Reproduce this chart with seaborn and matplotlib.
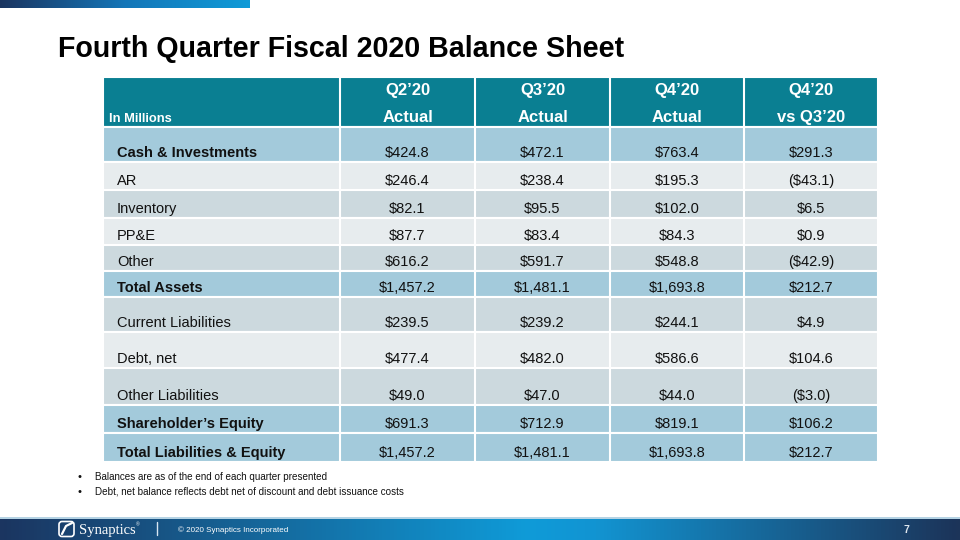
"""
Fourth Quarter Fiscal 2020 Balance Sheet - table slide
"""
import numpy as np
import matplotlib.pyplot as plt
import seaborn as sns
from matplotlib.colors import LinearSegmentedColormap
from matplotlib.patches import FancyBboxPatch

# ---- data ----
row_labels = ['Cash & Investments', 'AR', 'Inventory', 'PP&E', 'Other',
              'Total Assets', 'Current Liabilities', 'Debt, net',
              'Other Liabilities', 'Shareholder\u2019s Equity',
              'Total Liabilities & Equity']
bold_rows = ['Cash & Investments', 'Total Assets', 'Shareholder\u2019s Equity',
             'Total Liabilities & Equity']
row_fill = ['blue', 'light', 'gray', 'light', 'gray', 'blue',
            'gray', 'light', 'gray', 'blue', 'blue']
col_top = ['Q2\u201920', 'Q3\u201920', 'Q4\u201920', 'Q4\u201920']
col_bottom = ['Actual', 'Actual', 'Actual', 'vs Q3\u201920']
q2_actual = [424.8, 246.4, 82.1, 87.7, 616.2, 1457.2, 239.5, 477.4, 49.0, 691.3, 1457.2]
q3_actual = [472.1, 238.4, 95.5, 83.4, 591.7, 1481.1, 239.2, 482.0, 47.0, 712.9, 1481.1]
q4_actual = [763.4, 195.3, 102.0, 84.3, 548.8, 1693.8, 244.1, 586.6, 44.0, 819.1, 1693.8]
q4_vs_q3 = [291.3, -43.1, 6.5, 0.9, -42.9, 212.7, 4.9, 104.6, -3.0, 106.2, 212.7]
notes = ['Balances are as of the end of each quarter presented',
         'Debt, net balance reflects debt net of discount and debt issuance costs']

# ---- layout ----
col_edges = [103, 340, 475, 610, 744, 878]
head_top, head_bot = 77, 127
row_edges = [127, 162, 190, 218, 245, 271, 297, 332, 368, 405, 433, 462]
fills = {'blue': '#A3CADB', 'light': '#E7ECEE', 'gray': '#CCD9DE'}
HEAD = '#0A7F92'
TXT = '#111111'


def money(v):
    s = f'${abs(v):,.1f}'
    return f'({s})' if v < 0 else s


sns.set_theme(style='white')
plt.rcParams['font.family'] = ['Liberation Sans', 'DejaVu Sans']

fig = plt.figure(figsize=(9.6, 5.4), dpi=100)
ax = fig.add_axes([0, 0, 1, 1])
ax.set_xlim(0, 960)
ax.set_ylim(540, 0)
ax.axis('off')

# top banner and footer gradients
dark, bright = '#1B3560', '#0F9BD8'
cmap_top = LinearSegmentedColormap.from_list('top', [dark, '#1476B8', bright])
ax.imshow(np.linspace(0, 1, 256)[None, :], cmap=cmap_top, aspect='auto',
          extent=(0, 250, 8, 0), zorder=1)
cmap_foot = LinearSegmentedColormap.from_list(
    'foot', [(0, dark), (0.55, bright), (0.62, '#1294D2'), (1, '#1C3459')])
ax.imshow(np.linspace(0, 1, 256)[None, :], cmap=cmap_foot, aspect='auto',
          extent=(0, 960, 540, 519), zorder=1)
ax.fill_between([0, 960], 517, 519, color='#B5D3E4', zorder=1, lw=0)

# title
ax.text(58, 57, 'Fourth Quarter Fiscal 2020 Balance Sheet', fontsize=20.6,
        fontweight='bold', color='#000000', va='baseline')

# header band
ax.barh((head_top + head_bot) / 2, col_edges[-1] - col_edges[0],
        height=head_bot - head_top, left=col_edges[0], color=HEAD,
        edgecolor='white', linewidth=1.5, zorder=2)
ax.text(109, 122, 'In Millions', fontsize=9.3, fontweight='bold',
        color='white', va='baseline', zorder=5)
for i in range(4):
    xc = (col_edges[i + 1] + col_edges[i + 2]) / 2
    ax.text(xc, 95, col_top[i], fontsize=12, fontweight='bold', color='white',
            ha='center', va='baseline', zorder=5)
    ax.text(xc, 122, col_bottom[i], fontsize=12, fontweight='bold',
            color='white', ha='center', va='baseline', zorder=5)

# body rows
for r, label in enumerate(row_labels):
    top, bot = row_edges[r], row_edges[r + 1]
    ax.barh((top + bot) / 2, col_edges[-1] - col_edges[0], height=bot - top,
            left=col_edges[0], color=fills[row_fill[r]], edgecolor='white',
            linewidth=1.5, zorder=2)
    base = bot - 5
    ax.text(117, base, label, fontsize=10.5, color=TXT, va='baseline',
            fontweight='bold' if label in bold_rows else 'normal', zorder=5)
    for c, vals in enumerate([q2_actual, q3_actual, q4_actual, q4_vs_q3]):
        xc = (col_edges[c + 1] + col_edges[c + 2]) / 2
        ax.text(xc, base, money(vals[r]), fontsize=10.5, color=TXT,
                ha='center', va='baseline', zorder=5)

# white column separators
for x in col_edges[1:-1]:
    ax.plot([x, x], [head_top, row_edges[-1]], color='white', lw=1.5, zorder=3)

# notes
for i, note in enumerate(notes):
    y = 480 + i * 15
    ax.text(77, y, '\u2022', fontsize=8, color=TXT, va='baseline')
    ax.text(95, y, note, fontsize=7.1, color=TXT, va='baseline')

# footer content
ax.add_patch(FancyBboxPatch((59, 521.5), 15, 15, boxstyle='round,pad=0,rounding_size=3',
                            fc='none', ec='white', lw=1.2, zorder=4))
ax.plot([62, 66, 72], [534, 526, 523], color='white', lw=1.6, zorder=5)
ax.text(79, 534, 'Synaptics', fontsize=10.5, family=['Liberation Serif', 'DejaVu Serif'],
        color='white', va='baseline', zorder=5)
ax.text(136, 526, '\u00ae', fontsize=3.5, color='white', zorder=5)
ax.plot([157, 157], [522, 535], color='#D8E6F2', lw=1, zorder=5)
ax.text(178, 532, '\u00a9 2020 Synaptics Incorporated', fontsize=5.8,
        color='white', va='baseline', zorder=5)
ax.text(903, 533, '7', fontsize=7.5, color='#DDE6EE', fontweight='bold',
        va='baseline', zorder=5)

fig.savefig('out.png', dpi=100)
